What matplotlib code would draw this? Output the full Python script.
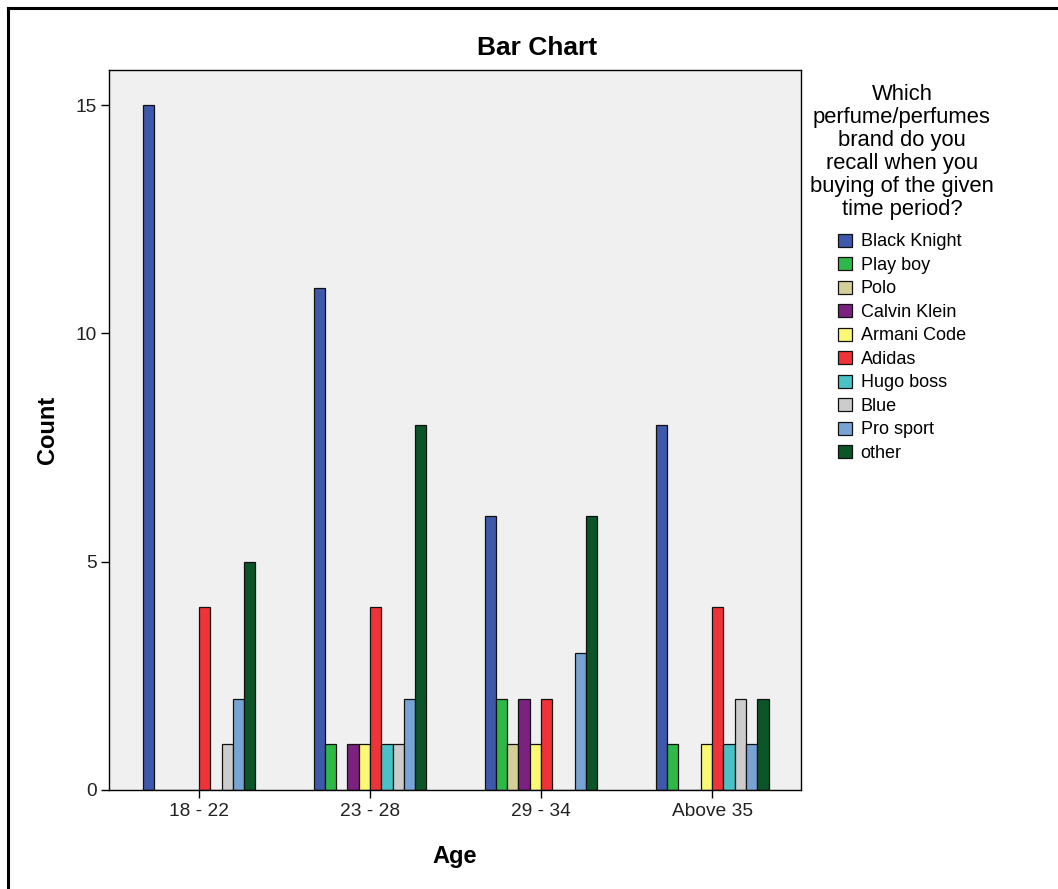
import matplotlib
matplotlib.use("Agg")
import matplotlib.pyplot as plt
from matplotlib.lines import Line2D
import numpy as np

plt.rcParams['font.family'] = ['Liberation Sans', 'DejaVu Sans']

age_groups = ["18 - 22", "23 - 28", "29 - 34", "Above 35"]
brands = ["Black Knight", "Play boy", "Polo", "Calvin Klein", "Armani Code",
          "Adidas", "Hugo boss", "Blue", "Pro sport", "other"]
counts = {
    "Black Knight": [15, 11, 6, 8],
    "Play boy":     [0, 1, 2, 1],
    "Polo":         [0, 0, 1, 0],
    "Calvin Klein": [0, 1, 2, 0],
    "Armani Code":  [0, 1, 1, 1],
    "Adidas":       [4, 4, 2, 4],
    "Hugo boss":    [0, 1, 0, 1],
    "Blue":         [1, 1, 0, 2],
    "Pro sport":    [2, 2, 3, 1],
    "other":        [5, 8, 6, 2],
}
colors = ["#3e58ac", "#2eb848", "#d4cf98", "#7b2281", "#fbf873",
          "#ef3338", "#48c2c5", "#cccccc", "#78a4d5", "#0b5529"]
yticks = [0, 5, 10, 15]

W, H = 1058, 889
fig = plt.figure(figsize=(W / 100, H / 100), dpi=100)
fig.patch.set_facecolor("white")

ax = fig.add_axes([109 / W, (H - 790) / H, 692 / W, 720 / H])
ax.set_facecolor("#f0f0f0")

x = np.arange(len(age_groups))
bw = 0.066
n = len(brands)
handles = []
for j, (b, c) in enumerate(zip(brands, colors)):
    pos = x + (j - (n - 1) / 2) * bw
    bars = ax.bar(pos, counts[b], width=bw, color=c, edgecolor="#111111",
                  linewidth=0.9, label=b, zorder=2)
    handles.append(bars)

ax.set_xlim(-0.526, 3.52)
ax.set_ylim(0, 15.77)
ax.set_xticks(x)
ax.set_xticklabels(age_groups, fontsize=13.8)
ax.set_yticks(yticks)
ax.set_yticklabels([str(t) for t in yticks], fontsize=13.8)
ax.tick_params(axis="both", direction="out", length=6, width=1, color="black",
               labelcolor="#222222", pad=3)
for s in ax.spines.values():
    s.set_color("black")
    s.set_linewidth(1)

fig.text(537 / W, 1 - 48 / H, "Bar Chart", fontsize=19, fontweight="bold",
         ha="center", va="center")
ax.set_ylabel("Count", fontsize=17, fontweight="bold", labelpad=12)
ax.set_xlabel("Age", fontsize=17, fontweight="bold", labelpad=18)

leg = fig.legend(handles=handles, labels=brands,
                 title="Which\nperfume/perfumes\nbrand do you\nrecall when you\nbuying of the given\ntime period?",
                 loc="upper center", bbox_to_anchor=(902 / W, 1 - 84 / H),
                 frameon=False, fontsize=13, title_fontsize=15.8,
                 handlelength=0.75, handleheight=0.75, handletextpad=0.5,
                 labelspacing=0.36, borderpad=0, borderaxespad=0,
                 alignment="center")
leg.get_title().set_linespacing(1.12)
leg.get_title().set_multialignment("center")
leg._legend_box.sep = 10
for h in leg.legend_handles:
    h.set_edgecolor("#111111")
    h.set_linewidth(0.9)

# outer frame
fig.add_artist(Line2D([8 / W, 1], [1 - 8 / H, 1 - 8 / H], transform=fig.transFigure,
                      color="black", lw=2.2))
fig.add_artist(Line2D([8 / W, 8 / W], [0, 1 - 8 / H], transform=fig.transFigure,
                      color="black", lw=2.2))

fig.savefig("out.png", dpi=100)
